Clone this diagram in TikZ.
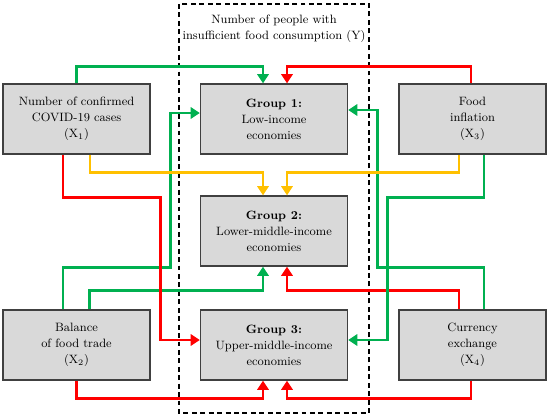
\documentclass[tikz,border=0pt]{standalone}
\usepackage{tikz}
\usetikzlibrary{arrows.meta, calc}
\definecolor{arrgreen}{HTML}{00B050}
\definecolor{arrred}{HTML}{FF0000}
\definecolor{arryellow}{HTML}{FFC000}
\definecolor{boxfill}{HTML}{D9D9D9}
\definecolor{boxline}{HTML}{404040}

\begin{document}
\begin{tikzpicture}[x=0.025cm, y=-0.025cm,
    varbox/.style={draw=boxline, line width=0.9pt, fill=boxfill, minimum width=3.675cm,
        minimum height=1.75cm, align=center, font=\fontsize{8.6}{11.4}\selectfont},
    link/.style={line width=2pt, -{Triangle[length=6.5pt, width=8pt]}},
    greenlink/.style={link, arrgreen},
    redlink/.style={link, arrred},
    yellowlink/.style={link, arryellow}]
    \useasboundingbox (0,0) rectangle (550,417);
    % dependent variable (Y)
    \draw[dash pattern=on 3.5pt off 2.5pt, line width=0.9pt] (179,4) rectangle (369,413);
    \node[align=center, font=\fontsize{8.6}{11.4}\selectfont] (ytitle) at (274,29)
        {Number of people with\\insufficient food consumption (Y)};
    % explanatory variables
    \node[varbox] (x1) at (76.5,119) {Number of confirmed\\COVID-19 cases\\(X\textsubscript{1})};
    \node[varbox] (x3) at (472.5,119) {Food\\inflation\\(X\textsubscript{3})};
    \node[varbox] (x2) at (76.5,345) {Balance\\of food trade\\(X\textsubscript{2})};
    \node[varbox] (x4) at (472.5,345) {Currency\\exchange\\(X\textsubscript{4})};
    % country groups
    \node[varbox] (g1) at (274,119) {\textbf{Group 1:}\\Low-income\\economies};
    \node[varbox] (g2) at (274,231) {\textbf{Group 2:}\\Lower-middle-income\\economies};
    \node[varbox] (g3) at (274,345) {\textbf{Group 3:}\\Upper-middle-income\\economies};
    % links into group 1
    \draw[greenlink] (x1.north) |- ($(g1.north)+(-11,-17)$) -- ($(g1.north)+(-11,0)$);
    \draw[redlink] ($(x3.north)+(-1.5,0)$) |- ($(g1.north)+(13,-17)$) -- ($(g1.north)+(13,0)$);
    \draw[greenlink] ($(x2.north)+(-13.5,0)$) -- ++(0,-42) -| ($(g1.west)+(-29,-6)$) -- ($(g1.west)+(0,-6)$);
    \draw[greenlink] ($(x4.north)+(11.5,0)$) -- ++(0,-42) -| ($(g1.east)+(29,-9)$) -- ($(g1.east)+(0,-9)$);
    % links into group 2
    \draw[yellowlink] ($(x1.south)+(13.5,0)$) |- ($(g2.north)+(-11,-23)$) -- ($(g2.north)+(-11,0)$);
    \draw[yellowlink] ($(x3.south)+(-13.5,0)$) |- ($(g2.north)+(13,-23)$) -- ($(g2.north)+(13,0)$);
    \draw[greenlink] ($(x2.north)+(13,0)$) |- ($(g2.south)+(-11,24)$) -- ($(g2.south)+(-11,0)$);
    \draw[redlink] ($(x4.north)+(-13.5,0)$) |- ($(g2.south)+(13,24)$) -- ($(g2.south)+(13,0)$);
    % links into group 3
    \draw[redlink] ($(x1.south)+(-13.5,0)$) -- ++(0,43) -| ($(g3.west)+(-39,-5)$) -- ($(g3.west)+(0,-5)$);
    \draw[greenlink] ($(x3.south)+(11.5,0)$) -- ++(0,43) -| ($(g3.east)+(39,-5)$) -- ($(g3.east)+(0,-5)$);
    \draw[redlink] (x2.south) |- ($(g3.south)+(-11,18)$) -- ($(g3.south)+(-11,0)$);
    \draw[redlink] ($(x4.south)+(-1.5,0)$) |- ($(g3.south)+(13,18)$) -- ($(g3.south)+(13,0)$);
\end{tikzpicture}
\end{document}
